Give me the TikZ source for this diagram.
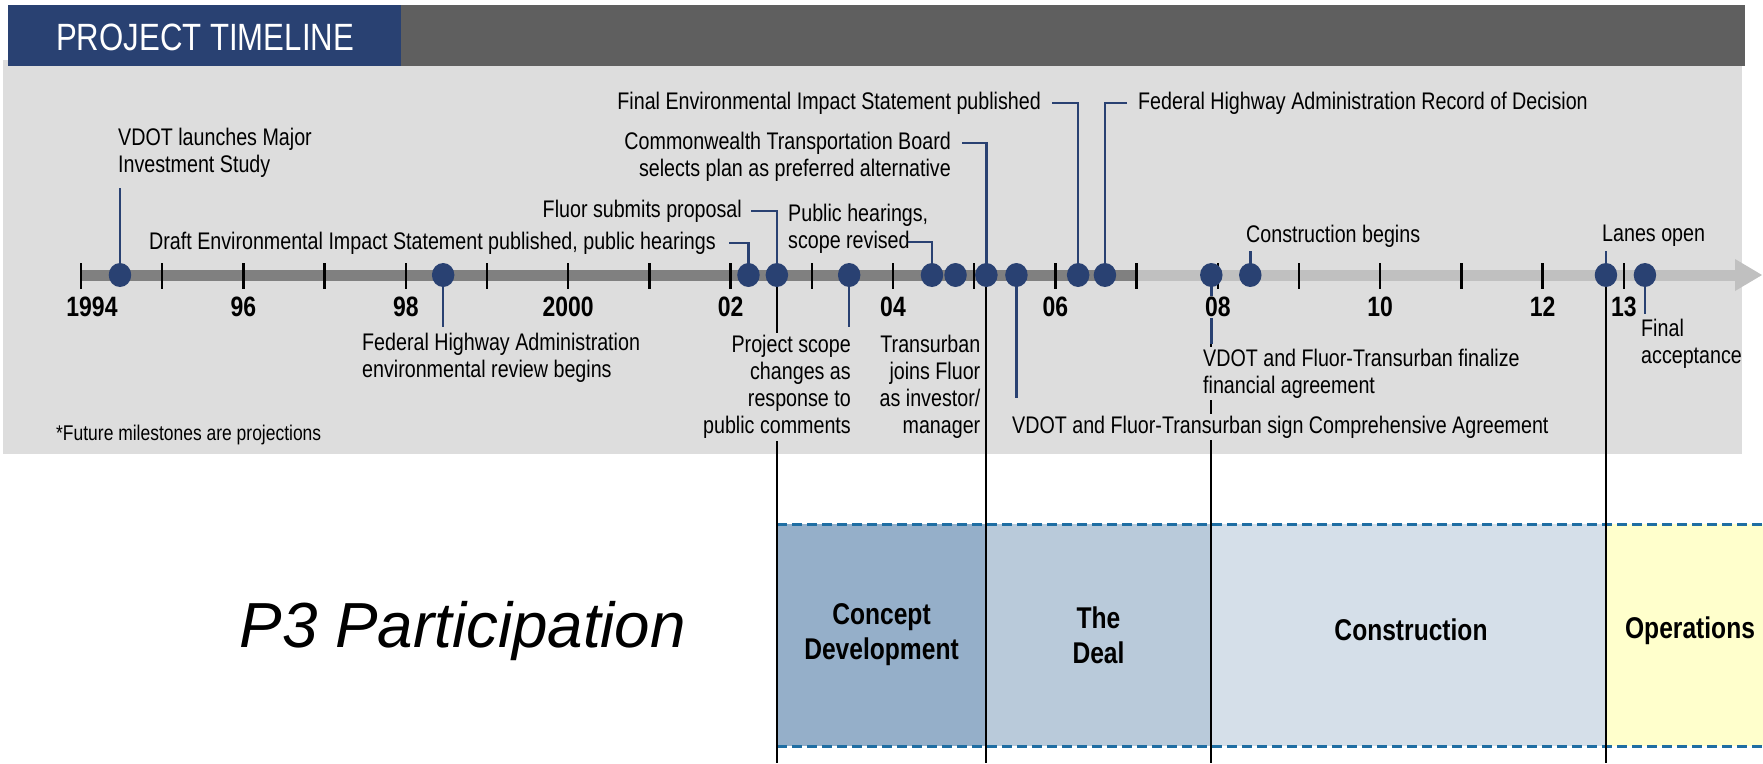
\documentclass[tikz,border=0pt]{standalone}
\usepackage{fontspec}
\setmainfont{Liberation Sans}
\newfontfamily\nar[FakeStretch=0.82]{Liberation Sans}
\usetikzlibrary{shapes.geometric,calc}
\definecolor{navy}{RGB}{41,65,114}
\definecolor{hdrgray}{RGB}{95,95,95}
\definecolor{panel}{RGB}{221,221,221}
\definecolor{bardark}{RGB}{128,128,128}
\definecolor{barlight}{RGB}{192,192,192}
\definecolor{dashblue}{RGB}{31,110,163}
\definecolor{phaseA}{RGB}{149,175,201}
\definecolor{phaseB}{RGB}{185,202,218}
\definecolor{phaseC}{RGB}{213,223,233}
\definecolor{phaseD}{RGB}{255,255,204}
\pgfdeclarelayer{back}
\pgfdeclarelayer{wires}
\pgfsetlayers{back,wires,main}
\begin{document}
\begin{tikzpicture}[x=1pt,y=-1pt,
  declare function={yx(\x)=81+(\x-1994)*81.2;},
  lbl/.style={font=\nar\fontsize{24}{27}\selectfont, inner sep=0pt},
  yr/.style={font=\nar\bfseries\fontsize{28}{28}\selectfont, inner sep=1pt},
  phase/.style={font=\nar\bfseries\fontsize{30}{35}\selectfont, align=center, inner sep=0pt},
  dot/.style={ellipse, fill=navy, minimum width=22.5pt, minimum height=24pt, inner sep=0pt},
  conn/.style={draw=navy, line width=2.5pt},
  split/.style={draw=black, line width=2pt},
  tick/.style={draw=black, line width=2.5pt},
  cover/.style={fill=panel, inner sep=2pt},
  phasedash/.style={draw=dashblue, line width=3pt, dash pattern=on 10pt off 5pt},
]
\useasboundingbox (0,0) rectangle (1763,763);

% ---- background: panel, header, phase bands, timeline bar ----
\begin{pgfonlayer}{back}
  \fill[white] (0,0) rectangle (1763,763);
  \fill[panel] (3,60) rectangle (1742,454);
  \fill[navy] (8,5) rectangle (401,66);
  \fill[hdrgray] (401,5) rectangle (1745,66);

  \fill[phaseA] (777,524) rectangle (986,746);
  \fill[phaseB] (986,524) rectangle (1211,746);
  \fill[phaseC] (1211,524) rectangle (1606,746);
  \fill[phaseD] (1606,524) rectangle (1763,746);
  \draw[phasedash] (777,524) -- (1763,524);
  \draw[phasedash] (777,746) -- (1763,746);

  \fill[bardark] (81,269.5) rectangle (1136,280.5);
  \fill[barlight] (1136,269.5) rectangle (1735,280.5);
  \fill[barlight] (1735,259) -- (1762,275) -- (1735,291) -- cycle;
  \foreach \yv in {1994,...,2013}
    \draw[tick] ({yx(\yv)},263) -- ({yx(\yv)},289);
\end{pgfonlayer}

\node[font=\nar\fontsize{38}{38}\selectfont, text=white, anchor=west, inner sep=0pt] (title) at (56,37) {PROJECT TIMELINE};

% ---- milestones ----
\node[dot] (d1) at ({yx(1994.48)},275) {};
\node[dot] (d2) at ({yx(1998.46)},275) {};
\node[dot] (d3) at ({yx(2002.22)},275) {};
\node[dot] (d4) at ({yx(2002.57)},275) {};
\node[dot] (d5) at ({yx(2003.46)},275) {};
\node[dot] (d6) at ({yx(2004.48)},275) {};
\node[dot] (d7) at ({yx(2004.77)},275) {};
\node[dot] (d8) at ({yx(2005.15)},275) {};
\node[dot] (d9) at ({yx(2005.52)},275) {};
\node[dot] (d10) at ({yx(2006.28)},275) {};
\node[dot] (d11) at ({yx(2006.61)},275) {};
\node[dot] (d12) at ({yx(2007.92)},275) {};
\node[dot] (d13) at ({yx(2008.40)},275) {};
\node[dot] (d14) at ({yx(2012.78)},275) {};
\node[dot] (d15) at ({yx(2013.26)},275) {};

% ---- year labels ----
\node[yr] (y94) at (92,307) {1994};
\node[yr] (y96) at ({yx(1996)},307) {96};
\node[yr] (y98) at ({yx(1998)},307) {98};
\node[yr] (y00) at ({yx(2000)},307) {2000};
\node[yr] (y02) at ({yx(2002)},307) {02};
\node[yr] (y04) at ({yx(2004)},307) {04};
\node[yr] (y06) at ({yx(2006)},307) {06};
\node[yr, fill=panel] (y08) at ({yx(2008)},307) {08};
\node[yr] (y10) at ({yx(2010)},307) {10};
\node[yr] (y12) at ({yx(2012)},307) {12};
\node[yr] (y13) at ({yx(2013)},307) {13};

% ---- milestone texts ----
\node[lbl, anchor=west, align=left] (l1) at (118,153) {VDOT launches Major\\Investment Study};
\node[lbl, anchor=east] (l2) at (716,243) {Draft Environmental Impact Statement published, public hearings};
\node[lbl, anchor=east] (l3) at (742,211) {Fluor submits proposal};
\node[lbl, anchor=west, align=left] (l4) at (788,228.5) {Public hearings,\\scope revised};
\node[lbl, anchor=east, align=right] (l5) at (951,157) {Commonwealth Transportation Board\\selects plan as preferred alternative};
\node[lbl, anchor=east] (l6) at (1041,103) {Final Environmental Impact Statement published};
\node[lbl, anchor=west] (l7) at (1138,103) {Federal Highway Administration Record of Decision};
\node[lbl, anchor=west] (l8) at (1246,236) {Construction begins};
\node[lbl, anchor=west] (l9) at (1602,236) {Lanes open};
\node[lbl, anchor=west, align=left] (l10) at (1641,344) {Final\\acceptance};
\node[lbl, anchor=west, align=left] (l11) at (362,357.5) {Federal Highway Administration\\environmental review begins};
\node[lbl, cover, anchor=east, align=right] (l12) at (853,387) {Project scope\\changes as\\response to\\public comments};
\node[lbl, anchor=east, align=right] (l13) at (980.5,387) {Transurban\\joins Fluor\\as investor/\\manager};
\node[lbl, cover, anchor=west] (l14) at (1010,427) {VDOT and Fluor-Transurban sign Comprehensive Agreement};
\node[lbl, cover, anchor=west, align=left] (l15) at (1201,373.5) {VDOT and Fluor-Transurban finalize\\financial agreement};
\node[font=\nar\fontsize{21.3}{22}\selectfont, inner sep=0pt, anchor=west] (note) at (56,435) {*Future milestones are projections};

% ---- phases ----
\node[font=\itshape\fontsize{63.7}{70}\selectfont, anchor=base west, inner sep=0pt] (p3) at (239.5,647) {P3 Participation};
\node[phase] (pA) at (881.5,635) {Concept\\Development};
\node[phase] (pB) at (1098.5,635) {The\\Deal};
\node[phase] (pC) at (1411,630) {Construction};
\node[phase] (pD) at (1690,631) {Operations};

% ---- connectors ----
\begin{pgfonlayer}{wires}
  \coordinate (bot) at (0,763);
  \foreach \d in {d4,d8,d12,d14}
    \draw[split] (\d.center) -- (\d |- bot);

  \draw[conn, shorten >=10pt] (d1.center) -- (d1 |- l1.south);
  \draw[conn, shorten >=6pt] (d2.center) -- (d2 |- l11.north);
  \draw[conn] ([xshift=13pt]l2.east) -| (d3.center);
  \draw[conn] ([xshift=9pt]l3.east) -| (d4.center);
  \coordinate (h4) at (908,242);
  \draw[conn] (h4) -| (d6.center);
  \coordinate (h5) at (962,143);
  \draw[conn] (h5) -| (d8.center);
  \draw[conn] ([xshift=11pt]l6.east) -| (d10.center);
  \draw[conn] ([xshift=-11pt]l7.west) -| (d11.center);
  \draw[conn, shorten >=4pt] (d13.center) -- (d13 |- l8.south);
  \draw[conn, shorten >=4pt] (d14.center) -- (d14 |- l9.south);
  \draw[conn, shorten >=5pt] (d15.center) -- (d15 |- l10.north);
  \draw[conn, shorten >=6pt] (d5.center) -- (d5 |- l12.north);
  \draw[conn, shorten >=16pt] (d9.center) -- (d9 |- l14.north);
  \draw[conn, shorten >=3pt] (d12.center) -- (d12 |- l15.north);
\end{pgfonlayer}
\end{tikzpicture}
\end{document}
